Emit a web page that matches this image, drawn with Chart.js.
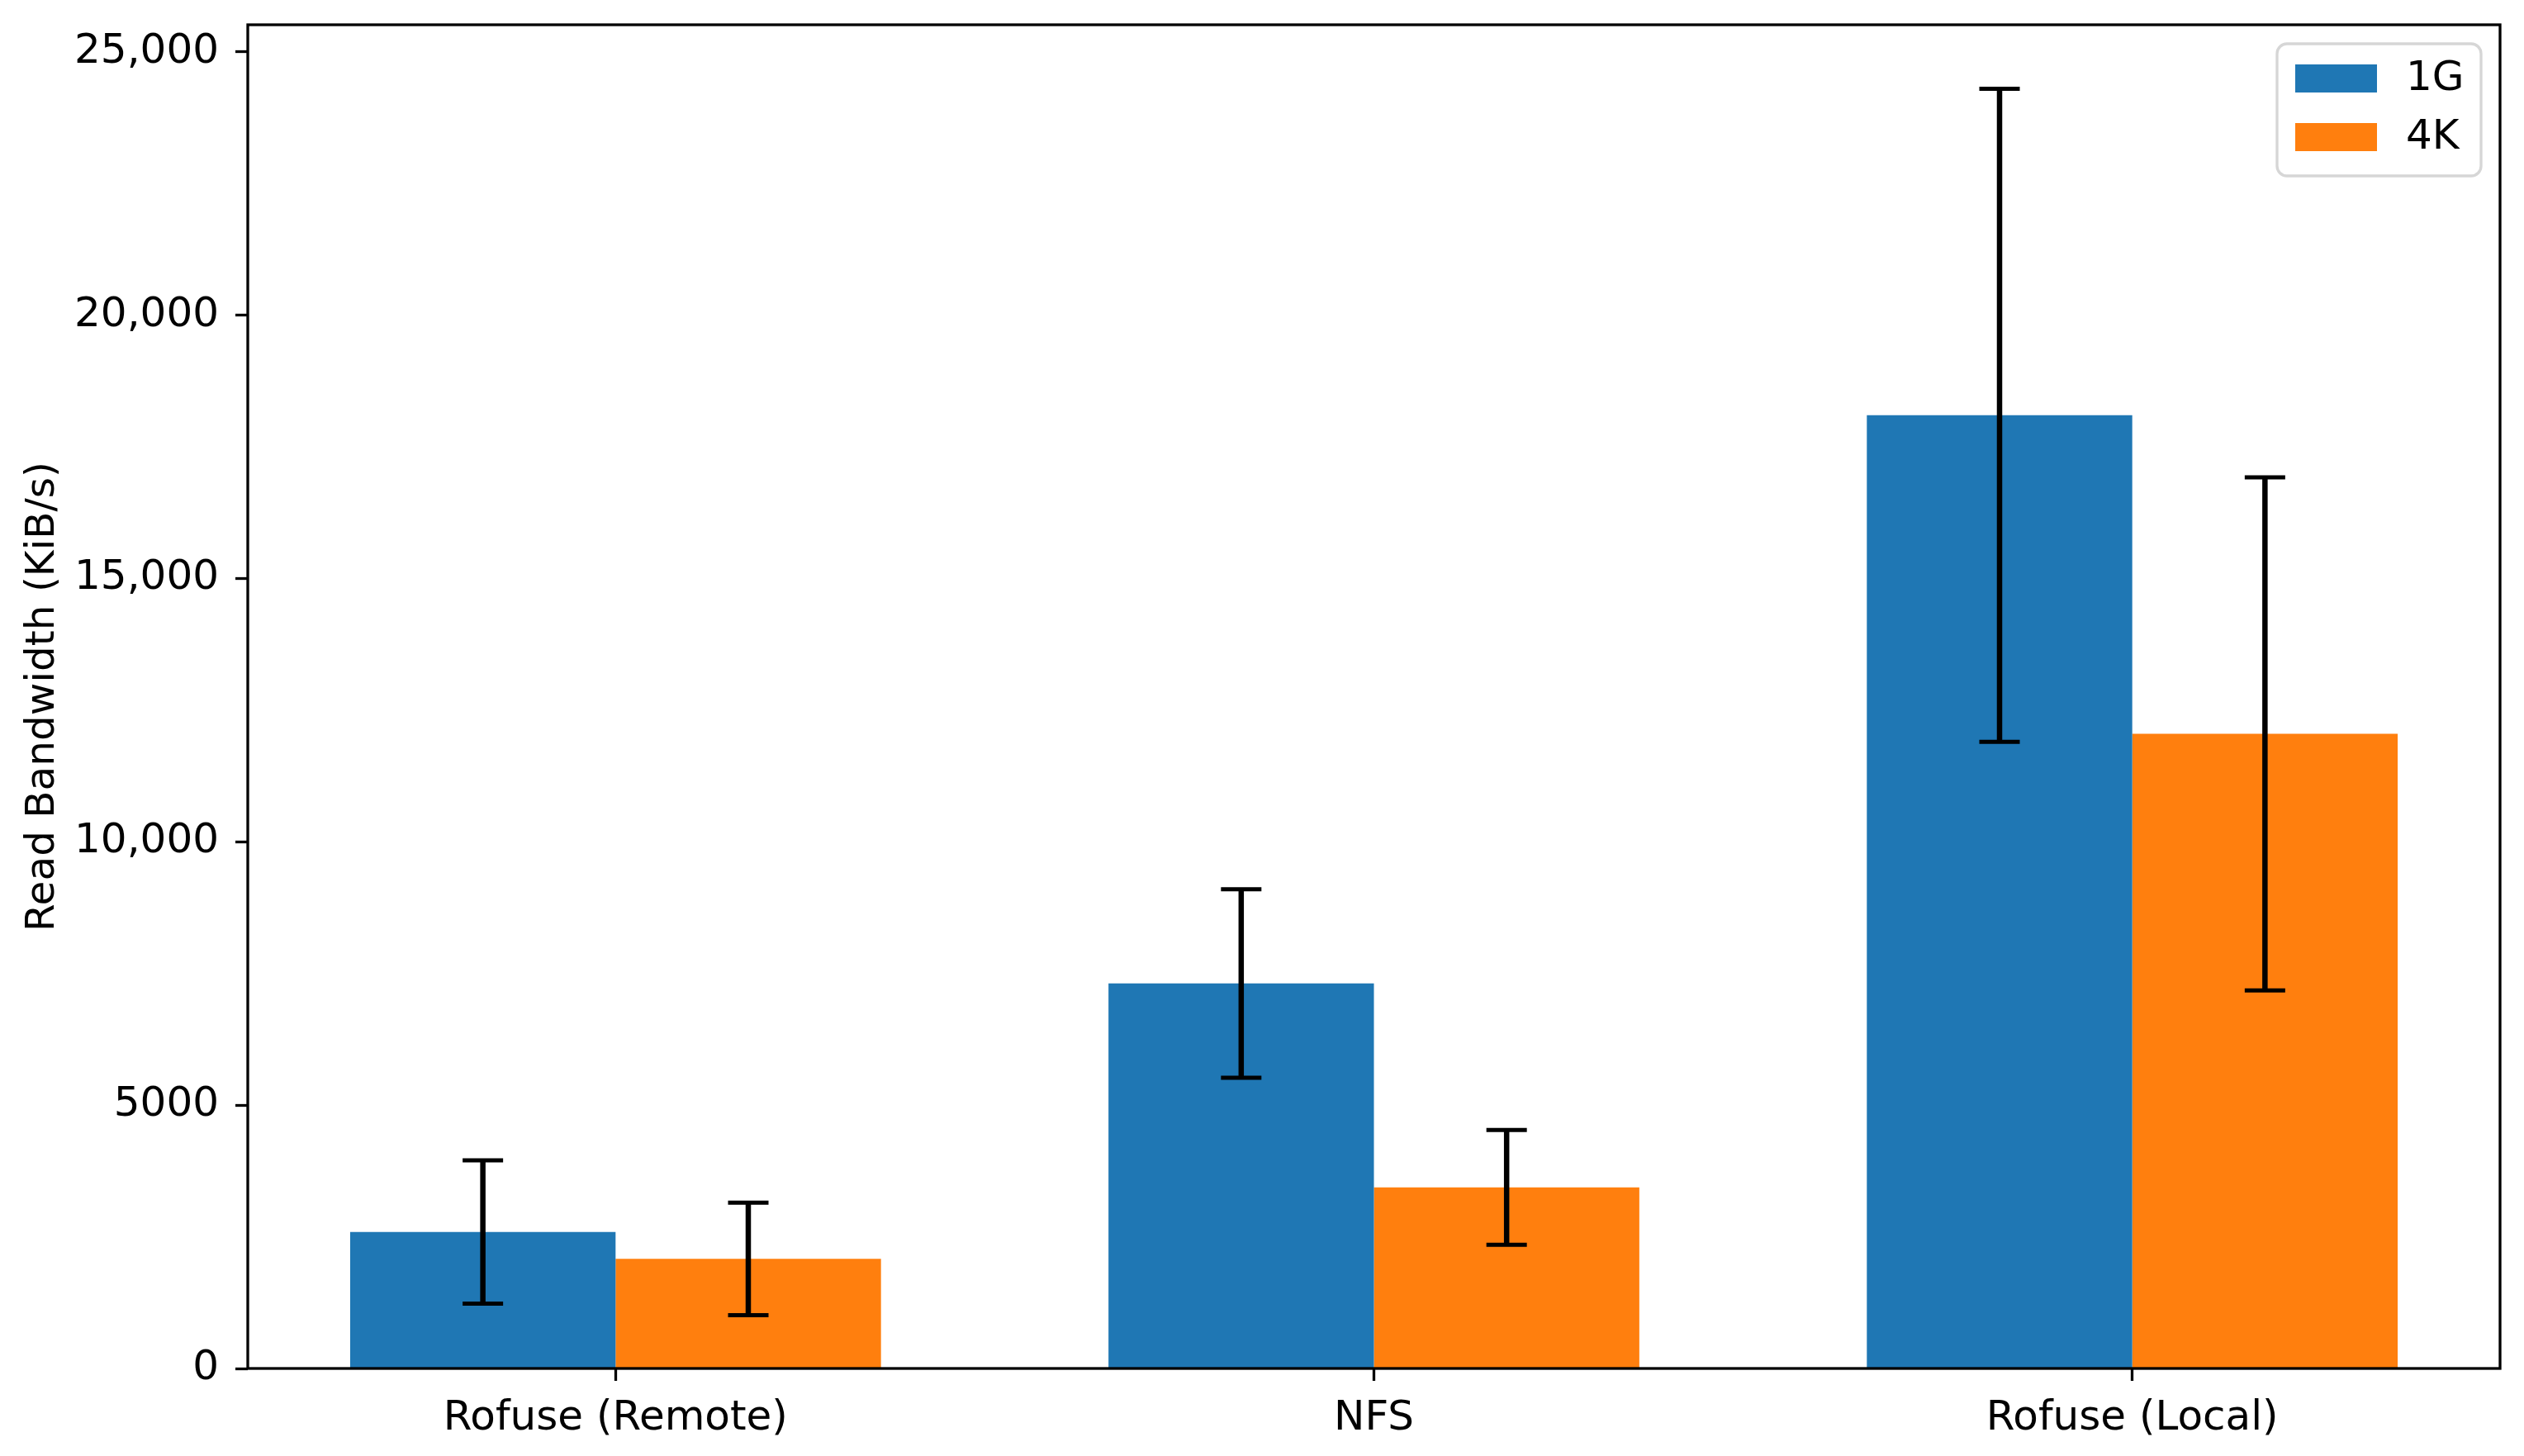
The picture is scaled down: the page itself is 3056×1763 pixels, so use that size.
<!DOCTYPE html>
<html>
<head>
<meta charset="utf-8">
<script src="https://cdn.jsdelivr.net/npm/chart.js@4.4.1/dist/chart.umd.min.js"></script>
<style>
  html, body { margin: 0; padding: 0; background: #fff; }
  canvas { display: block; }
</style>
</head>
<body>
<canvas id="bwChart" width="3056" height="1763"></canvas>
<script>
// data
const categories = ['Rofuse (Remote)', 'NFS', 'Rofuse (Local)'];
const seriesNames = ['1G', '4K'];
const values1G = [2590, 7310, 18100];
const values4K = [2080, 3440, 12050];
const err1G = [1360, 1790, 6200];
const err4K = [1070, 1090, 4870];
const yTickValues = [0, 5000, 10000, 15000, 20000, 25000];
const yTickLabels = ['0', '5000', '10,000', '15,000', '20,000', '25,000'];

const FONT = 'DejaVu Sans';
const FS = 50;

// error bars drawn from the y scale
const errorBars = {
    id: 'errorBars',
    afterDatasetsDraw(chart) {
        const ctx = chart.ctx;
        const y = chart.scales.y;
        const errs = [err1G, err4K];
        ctx.save();
        ctx.strokeStyle = '#000';
        chart.data.datasets.forEach((ds, di) => {
            const meta = chart.getDatasetMeta(di);
            meta.data.forEach((bar, i) => {
                const v = ds.data[i].y;
                const top = y.getPixelForValue(v + errs[di][i]);
                const bot = y.getPixelForValue(v - errs[di][i]);
                ctx.lineWidth = 6.5;
                ctx.beginPath();
                ctx.moveTo(bar.x, top);
                ctx.lineTo(bar.x, bot);
                ctx.stroke();
                ctx.lineWidth = 5;
                ctx.beginPath();
                ctx.moveTo(bar.x - 24.5, top);
                ctx.lineTo(bar.x + 24.5, top);
                ctx.moveTo(bar.x - 24.5, bot);
                ctx.lineTo(bar.x + 24.5, bot);
                ctx.stroke();
            });
        });
        ctx.restore();
    }
};

// axes frame + legend box in the upper right
const frameAndLegend = {
    id: 'frameAndLegend',
    afterDraw(chart) {
        const ctx = chart.ctx;
        const a = chart.chartArea;
        ctx.save();
        ctx.strokeStyle = '#000';
        ctx.lineWidth = 3.3;
        ctx.strokeRect(a.left, a.top, a.right - a.left, a.bottom - a.top);

        const bx = a.right - 270, by = a.top + 23, bw = 247, bh = 160;
        ctx.fillStyle = 'rgba(255,255,255,0.8)';
        ctx.strokeStyle = '#d6d6d6';
        ctx.lineWidth = 3.3;
        ctx.beginPath();
        ctx.roundRect(bx, by, bw, bh, 12);
        ctx.fill();
        ctx.stroke();

        ctx.font = FS + 'px "' + FONT + '"';
        ctx.textBaseline = 'middle';
        ctx.textAlign = 'left';
        chart.data.datasets.forEach((ds, i) => {
            const ry = by + 25 + i * 71;
            ctx.fillStyle = ds.backgroundColor;
            ctx.fillRect(bx + 22, ry, 99, 34);
            ctx.fillStyle = '#000';
            ctx.fillText(ds.label, bx + 156, ry + 18);
        });
        ctx.restore();
    }
};

const toPoints = vals => vals.map((v, i) => ({ x: i, y: v }));

new Chart(document.getElementById('bwChart'), {
    type: 'bar',
    data: {
        datasets: [
            { label: seriesNames[0], data: toPoints(values1G), backgroundColor: '#1f77b4' },
            { label: seriesNames[1], data: toPoints(values4K), backgroundColor: '#ff7f0e' }
        ]
    },
    options: {
        responsive: false,
        devicePixelRatio: 1,
        animation: false,
        categoryPercentage: 0.7,
        barPercentage: 1.0,
        layout: { padding: { top: 30, right: 29, left: 0, bottom: 0 } },
        plugins: {
            legend: { display: false },
            tooltip: { enabled: false }
        },
        scales: {
            x: {
                type: 'linear',
                offset: false,
                min: -0.485,
                max: 2.485,
                afterBuildTicks: scale => {
                    scale.ticks = categories.map((c, i) => ({ value: i }));
                },
                afterFit: scale => {
                    scale.height = 106;
                    scale.paddingLeft = 0;
                    scale.paddingRight = 0;
                },
                border: { display: false },
                grid: {
                    offset: false,
                    drawOnChartArea: false,
                    tickLength: 15,
                    tickWidth: 3.3,
                    tickColor: '#000'
                },
                ticks: {
                    color: '#000',
                    padding: 16,
                    maxRotation: 0,
                    font: { family: FONT, size: FS },
                    callback: v => categories[v]
                }
            },
            y: {
                min: 0,
                max: 25515,
                afterBuildTicks: scale => {
                    scale.ticks = yTickValues.map(v => ({ value: v }));
                },
                afterFit: scale => {
                    scale.width = 300;
                    scale.paddingTop = 0;
                    scale.paddingBottom = 0;
                },
                border: { display: false },
                grid: {
                    drawOnChartArea: false,
                    tickLength: 15,
                    tickWidth: 3.3,
                    tickColor: '#000'
                },
                ticks: {
                    color: '#000',
                    padding: 20,
                    font: { family: FONT, size: FS },
                    callback: v => yTickLabels[yTickValues.indexOf(v)]
                },
                title: {
                    display: true,
                    text: 'Read Bandwidth (KiB/s)',
                    color: '#000',
                    padding: { top: 23, bottom: 0 },
                    font: { family: FONT, size: 48.5 }
                }
            }
        }
    },
    plugins: [errorBars, frameAndLegend]
});
</script>
</body>
</html>
